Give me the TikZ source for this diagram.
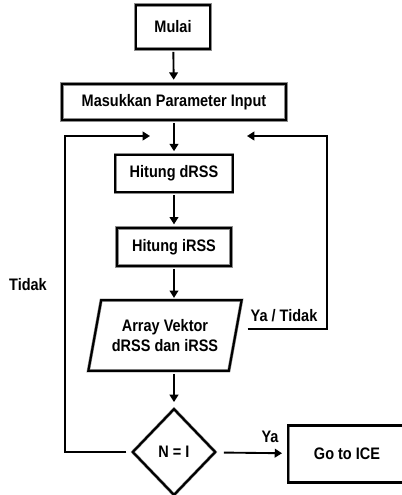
\documentclass[tikz,border=0pt]{standalone}
\usepackage{fontspec}
\setmainfont{Liberation Sans}[FakeStretch=0.87]
\usepackage{tikz}
\usetikzlibrary{shapes.geometric,arrows.meta}

\begin{document}
\begin{tikzpicture}[x=0.75pt, y=-0.75pt,
  box/.style={draw=black!45, line width=0.4pt, double=black, double distance=1.6pt, fill=white, inner sep=0pt, align=center, font=\fontsize{12.5}{15.5}\selectfont\bfseries},
  arr/.style={-{Triangle[length=5.5pt,width=6.5pt]}, line width=1.4pt},
  lbl/.style={font=\fontsize{12.5}{14}\selectfont\bfseries}]
\useasboundingbox (0,0) rectangle (402,495);
\node[box, minimum width=56pt, minimum height=33pt] (mulai) at (173,27) {Mulai};
\node[box, minimum width=168pt, minimum height=27pt] (input) at (174,102) {Masukkan Parameter Input};
\node[box, minimum width=88pt, minimum height=28pt] (drss) at (174,173.5) {Hitung dRSS};
\node[box, minimum width=85.5pt, minimum height=28.5pt] (irss) at (174,247) {Hitung iRSS};
\node[box, trapezium, trapezium left angle=72, trapezium right angle=108, trapezium stretches=true, minimum width=115.5pt, minimum height=53pt] (vektor) at (165,335.5) {Array Vektor\\dRSS dan iRSS};
\node[box, diamond, minimum width=62pt, minimum height=64.5pt] (cek) at (174,452) {N = I};
\node[box, minimum width=94pt, minimum height=42.75pt] (ice) at (351,454) {\hspace*{-6pt}Go to ICE};
\coordinate (lt) at (65,136);
\coordinate (lin) at (150,136);
\coordinate (rt) at (327,136);
\coordinate (rin) at (247,136);
\draw[arr, shorten <=2pt, shorten >=3pt] (mulai) -- (input);
\draw[arr, shorten <=2pt, shorten >=2.5pt] (input) -- (drss);
\draw[arr, shorten <=2pt, shorten >=2.5pt] (drss) -- (irss);
\draw[arr, shorten <=2pt, shorten >=1.5pt] (irss.south) -- (irss.south |- vektor.north);
\draw[arr, shorten <=2pt, shorten >=5pt] (irss.south |- vektor.south) -- (cek);
\draw[arr, shorten <=6.5pt, shorten >=4.5pt] (cek) -- (ice);
\draw[arr, shorten <=4.5pt] (cek.west) -| (lt) -- (lin);
\draw[arr] ([shift={(12,-6.5)}]vektor.east) -| (rt) -- (rin);
\node[lbl] (tidak) at (28,285) {Tidak};
\node[lbl] (yatidak) at (284,316) {Ya / Tidak};
\node[lbl] (ya) at (270,437) {Ya};
\end{tikzpicture}
\end{document}
